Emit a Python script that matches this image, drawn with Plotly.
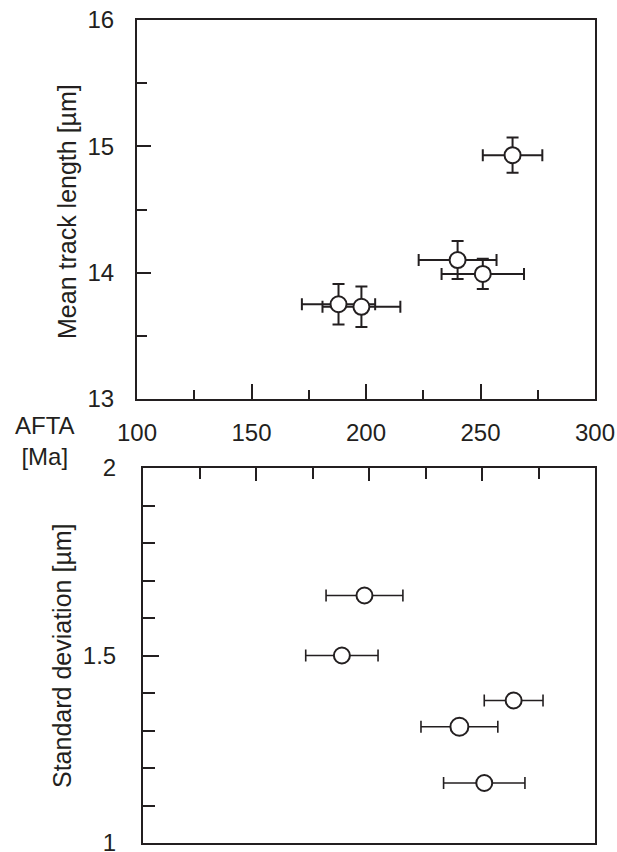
import plotly.graph_objects as go

# AFTA ages [Ma] with 1-sigma errors
age = [264, 240, 251, 188, 198]
age_err = [13, 17, 18, 16, 17]

# mean track length [um]
mtl = [14.93, 14.10, 13.99, 13.75, 13.73]
mtl_err = [0.14, 0.15, 0.12, 0.16, 0.16]

# standard deviation of track length [um]
sd = [1.38, 1.31, 1.16, 1.50, 1.66]

W, H = 617, 852
INK = "#231f20"
FONT = "Liberation Sans, Arial, sans-serif"


def px_x(p):
    return p / W


def px_y(p):
    return 1 - p / H


fig = go.Figure()

fig.add_trace(go.Scatter(
    x=age, y=mtl, mode="markers",
    error_x=dict(type="data", array=age_err, color=INK, thickness=2, width=6),
    error_y=dict(type="data", array=mtl_err, color=INK, thickness=2, width=6),
    marker=dict(symbol="circle", size=16, color="white", opacity=1,
                line=dict(color=INK, width=2)),
    xaxis="x", yaxis="y", showlegend=False,
))

fig.add_trace(go.Scatter(
    x=age, y=sd, mode="markers",
    error_x=dict(type="data", array=age_err, color=INK, thickness=1.6, width=6),
    marker=dict(symbol="circle", size=[16, 18, 16, 16, 16], color="white", opacity=1,
                line=dict(color=INK, width=2)),
    xaxis="x2", yaxis="y2", showlegend=False,
))

axis_common = dict(
    showline=True, linecolor=INK, linewidth=2, mirror=True, automargin=False,
    showgrid=False, zeroline=False, ticks="inside", tickcolor=INK, tickwidth=2,
    tickfont=dict(family=FONT, size=24, color=INK), ticklabeloverflow="allow",
)

fig.update_layout(
    width=W, height=H, autosize=False,
    margin=dict(l=0, r=0, t=0, b=0),
    paper_bgcolor="white", plot_bgcolor="white",
    xaxis=dict(axis_common, domain=[px_x(137), px_x(595)], range=[100, 300],
               anchor="y", dtick=50, tick0=100, ticklen=15, ticklabelstandoff=11,
               minor=dict(dtick=25, tick0=100, ticks="inside", ticklen=9,
                          tickcolor=INK, tickwidth=2)),
    yaxis=dict(axis_common, domain=[px_y(399), px_y(20)], range=[13, 16],
               anchor="x", dtick=1, ticklen=14, ticklabelstandoff=16,
               minor=dict(dtick=0.5, ticks="inside", ticklen=10,
                          tickcolor=INK, tickwidth=2)),
    xaxis2=dict(axis_common, domain=[px_x(143), px_x(595)], range=[100, 300],
                anchor="y2", side="top", showticklabels=False,
                dtick=50, tick0=100, ticklen=13,
                minor=dict(dtick=25, tick0=100, ticks="inside", ticklen=11,
                           tickcolor=INK, tickwidth=2)),
    yaxis2=dict(axis_common, domain=[px_y(843), px_y(468)], range=[1, 2],
                anchor="x2", dtick=0.5, ticklen=16, ticklabelstandoff=20,
                minor=dict(dtick=0.1, ticks="inside", ticklen=12,
                           tickcolor=INK, tickwidth=2)),
    annotations=[
        dict(text="Mean track length [µm]", textangle=-90,
             x=px_x(67), y=px_y(212), xref="paper", yref="paper",
             xanchor="center", yanchor="middle",
             showarrow=False, font=dict(family=FONT, size=25, color=INK)),
        dict(text="Standard deviation [µm]", textangle=-90,
             x=px_x(62), y=px_y(656), xref="paper", yref="paper",
             xanchor="center", yanchor="middle",
             showarrow=False, font=dict(family=FONT, size=25, color=INK)),
        dict(text="AFTA<br>[Ma]", x=px_x(45), y=px_y(441),
             xref="paper", yref="paper", xanchor="center", yanchor="middle",
             showarrow=False, font=dict(family=FONT, size=24, color=INK)),
    ],
)

# drop the default page margin so the figure sits at the window origin
fig.write_html("out.html", config={"displayModeBar": False},
               post_script="document.body.style.margin='0';")
